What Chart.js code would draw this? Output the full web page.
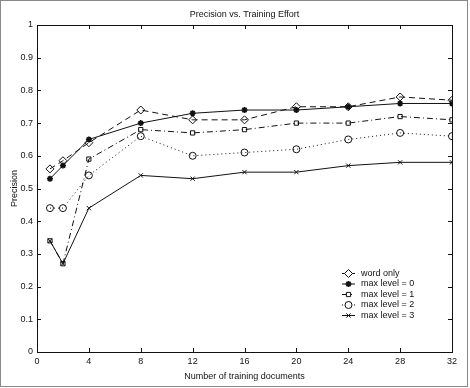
<!DOCTYPE html>
<html lang="en">
<head>
  <meta charset="UTF-8" />
  <title>Precision vs. Training Effort</title>
  <style>
    body {
      margin: 0;
      padding: 0;
      background: #fff;
    }
    canvas {
      display: block;
    }
  </style>
</head>
<body>
  <canvas id="grafico" width="470" height="388"></canvas>

  <script src="https://cdn.jsdelivr.net/npm/chart.js"></script>
  <script>
    // values
    const numDocs = [1, 2, 4, 8, 12, 16, 20, 24, 28, 32];
    const wordOnly = [0.56, 0.585, 0.64, 0.74, 0.71, 0.71, 0.75, 0.75, 0.78, 0.77];
    const maxLevel0 = [0.53, 0.57, 0.65, 0.70, 0.73, 0.74, 0.74, 0.75, 0.76, 0.76];
    const maxLevel1 = [0.34, 0.27, 0.59, 0.68, 0.67, 0.68, 0.70, 0.70, 0.72, 0.71];
    const maxLevel2 = [0.44, 0.44, 0.54, 0.66, 0.60, 0.61, 0.62, 0.65, 0.67, 0.66];
    const maxLevel3 = [0.34, 0.27, 0.44, 0.54, 0.53, 0.55, 0.55, 0.57, 0.58, 0.58];
    const xTicks = [0, 4, 8, 12, 16, 20, 24, 28, 32];
    const yTicks = [0, 0.1, 0.2, 0.3, 0.4, 0.5, 0.6, 0.7, 0.8, 0.9, 1];
    const yTickLabels = ['0', '0.1', '0.2', '0.3', '0.4', '0.5', '0.6', '0.7', '0.8', '0.9', '1'];

    const fonte = "'Liberation Sans', Arial, sans-serif";
    const tinta = '#111';

    function serie(label, valores, estilo, raio, tracejado) {
      return {
        label: label,
        data: numDocs.map((x, i) => ({ x: x, y: valores[i] })),
        borderColor: tinta,
        backgroundColor: '#fff',
        borderWidth: 1,
        borderDash: tracejado,
        pointStyle: estilo,
        pointRadius: raio,
        pointBorderColor: tinta,
        pointBackgroundColor: 'rgba(0,0,0,0)',
        pointBorderWidth: 1,
        tension: 0
      };
    }

    const datasets = [
      serie('word only', wordOnly, 'rectRot', 4, [6, 4]),
      serie('max level = 0', maxLevel0, 'star', 3, []),
      serie('max level = 1', maxLevel1, 'rect', 3, [6, 3, 1, 3]),
      serie('max level = 2', maxLevel2, 'circle', 3.5, [1, 3]),
      serie('max level = 3', maxLevel3, 'crossRot', 3, [])
    ];
    datasets[1].pointBorderWidth = 1.6;

    // moldura, caixa do gráfico, ticks para dentro, título e legenda
    const extras = {
      id: 'extras',
      afterDraw(chart) {
        const ctx = chart.ctx;
        const a = chart.chartArea;
        const sx = chart.scales.x;
        const sy = chart.scales.y;
        ctx.save();

        ctx.strokeStyle = '#888';
        ctx.lineWidth = 1;
        ctx.strokeRect(0.5, 0.5, chart.width - 3, chart.height - 2);

        ctx.strokeStyle = tinta;
        ctx.lineWidth = 1;
        ctx.strokeRect(Math.round(a.left) + 0.5, Math.round(a.top) + 0.5,
          Math.round(a.right - a.left), Math.round(a.bottom - a.top));

        ctx.beginPath();
        xTicks.forEach(v => {
          const px = Math.round(sx.getPixelForValue(v)) + 0.5;
          ctx.moveTo(px, a.bottom); ctx.lineTo(px, a.bottom - 4);
          ctx.moveTo(px, a.top); ctx.lineTo(px, a.top + 4);
        });
        yTicks.forEach(v => {
          const py = Math.round(sy.getPixelForValue(v)) + 0.5;
          ctx.moveTo(a.left, py); ctx.lineTo(a.left + 4, py);
          ctx.moveTo(a.right, py); ctx.lineTo(a.right - 4, py);
        });
        ctx.stroke();

        ctx.fillStyle = tinta;
        ctx.font = '9px ' + fonte;
        ctx.textAlign = 'center';
        ctx.textBaseline = 'middle';
        ctx.fillText('Precision vs. Training Effort', (a.left + a.right) / 2, 15);

        // legenda
        const x0 = 342, x1 = 355, y0 = 273.5, passo = 10.5;
        chart.data.datasets.forEach((ds, i) => {
          const y = y0 + i * passo;
          ctx.beginPath();
          ctx.setLineDash(ds.borderDash);
          ctx.lineWidth = 1;
          ctx.strokeStyle = tinta;
          ctx.moveTo(x0, y); ctx.lineTo(x1, y);
          ctx.stroke();
          ctx.setLineDash([]);
          if (Chart.helpers && Chart.helpers.drawPoint) {
            ctx.fillStyle = '#fff';
            ctx.lineWidth = ds.pointBorderWidth;
            Chart.helpers.drawPoint(ctx, {
              pointStyle: ds.pointStyle,
              radius: ds.pointRadius,
              rotation: 0,
              borderWidth: ds.pointBorderWidth
            }, (x0 + x1) / 2, y);
          }
          ctx.fillStyle = tinta;
          ctx.font = '9px ' + fonte;
          ctx.textAlign = 'left';
          ctx.fillText(ds.label, 361, y);
        });
        ctx.restore();
      }
    };

    new Chart(document.getElementById('grafico'), {
      type: 'line',
      data: { datasets: datasets },
      options: {
        responsive: false,
        animation: false,
        layout: { padding: { top: 25, right: 18, left: 0, bottom: 0 } },
        plugins: {
          legend: { display: false },
          title: { display: false },
          tooltip: { enabled: false }
        },
        scales: {
          x: {
            type: 'linear',
            min: 0,
            max: 32,
            afterBuildTicks: s => { s.ticks = xTicks.map(v => ({ value: v })); },
            afterFit: s => { s.height = 36; },
            grid: { display: false, drawTicks: false },
            border: { display: false },
            ticks: { padding: 4, color: tinta, font: { family: fonte, size: 9 }, maxRotation: 0 },
            title: {
              display: true,
              text: 'Number of training documents',
              color: tinta,
              font: { family: fonte, size: 9 },
              padding: { top: 0, bottom: 6 }
            }
          },
          y: {
            min: 0,
            max: 1,
            afterBuildTicks: s => { s.ticks = yTicks.map(v => ({ value: v })); },
            afterFit: s => { s.width = 37; },
            grid: { display: false, drawTicks: false },
            border: { display: false },
            ticks: {
              padding: 4,
              color: tinta,
              font: { family: fonte, size: 9 },
              callback: (v, i) => yTickLabels[i]
            },
            title: {
              display: true,
              text: 'Precision',
              color: tinta,
              font: { family: fonte, size: 9 },
              padding: { top: 9, bottom: 0 }
            }
          }
        }
      },
      plugins: [extras]
    });
  </script>
</body>
</html>
